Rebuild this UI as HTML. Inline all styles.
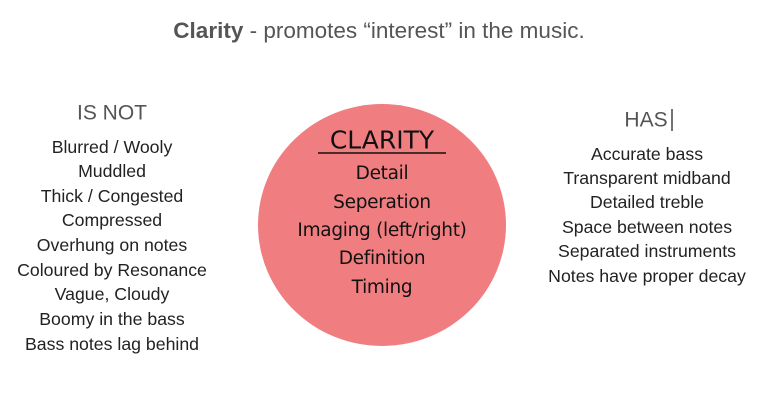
<!DOCTYPE html>
<html><head><meta charset="utf-8"><style>
html,body{margin:0;padding:0;background:#fff;}
body{width:768px;height:410px;position:relative;overflow:hidden;font-family:"Liberation Sans",sans-serif;}
.t{position:absolute;white-space:nowrap;transform:translate(-50%,-50%);line-height:1;}
.l{font-size:17.7px;color:#222;}
.c{font-size:18.5px;color:#111;font-family:"DejaVu Sans","Liberation Sans",sans-serif;letter-spacing:-0.3px;}
</style></head><body>
<svg width="768" height="410" style="position:absolute;left:0;top:0">
<ellipse cx="382" cy="225" rx="124" ry="121" fill="#f07e81"/>
<line x1="318" y1="153" x2="446" y2="153" stroke="#111" stroke-width="1.5"/>
<line x1="672" y1="109" x2="672" y2="131" stroke="#444" stroke-width="1.5"/>
</svg>
<div class="t" style="left:379px;top:31px;font-size:22.5px;color:#555"><b>Clarity</b> - promotes “interest” in the music.</div>
<div class="t" style="left:112px;top:113px;font-size:21px;color:#555">IS NOT</div>
<div class="t l" style="left:112px;top:148px">Blurred / Wooly</div>
<div class="t l" style="left:112px;top:172px">Muddled</div>
<div class="t l" style="left:112px;top:197px">Thick / Congested</div>
<div class="t l" style="left:112px;top:221px">Compressed</div>
<div class="t l" style="left:112px;top:246px">Overhung on notes</div>
<div class="t l" style="left:112px;top:271px">Coloured by Resonance</div>
<div class="t l" style="left:112px;top:295px">Vague, Cloudy</div>
<div class="t l" style="left:112px;top:320px">Boomy in the bass</div>
<div class="t l" style="left:112px;top:345px">Bass notes lag behind</div>
<div class="t" style="left:646px;top:120px;font-size:21px;color:#555">HAS</div>
<div class="t l" style="left:647px;top:155px">Accurate bass</div>
<div class="t l" style="left:647px;top:179px">Transparent midband</div>
<div class="t l" style="left:647px;top:203px">Detailed treble</div>
<div class="t l" style="left:647px;top:228px">Space between notes</div>
<div class="t l" style="left:647px;top:252px">Separated instruments</div>
<div class="t l" style="left:647px;top:277px">Notes have proper decay</div>
<div class="t c" style="left:382px;top:140px;font-size:25px;letter-spacing:0">CLARITY</div>
<div class="t c" style="left:382px;top:174px">Detail</div>
<div class="t c" style="left:382px;top:203px">Seperation</div>
<div class="t c" style="left:382px;top:231px">Imaging (left/right)</div>
<div class="t c" style="left:382px;top:259px">Definition</div>
<div class="t c" style="left:382px;top:288px">Timing</div>
</body></html>
